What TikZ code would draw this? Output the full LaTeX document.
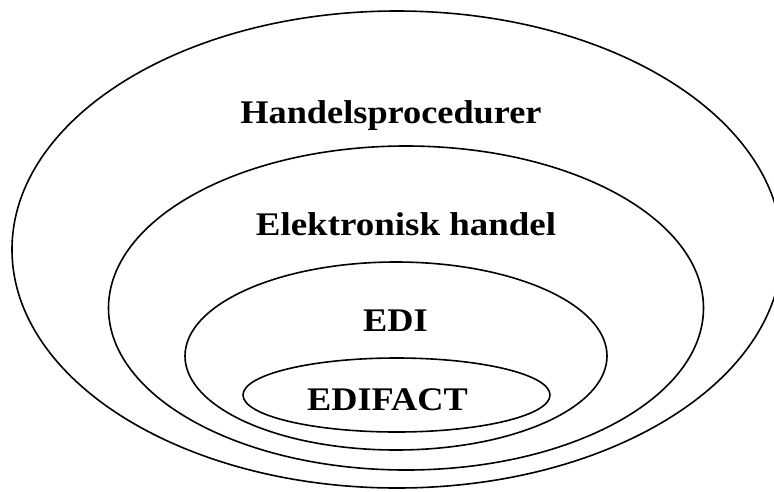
\documentclass[tikz,border=0pt]{standalone}
\usepackage{fontspec}
\setmainfont{Liberation Serif}
\begin{document}
\begin{tikzpicture}[x=1pt,y=-1pt,
  ring/.style={draw=black,line width=1.6pt},
  lbl/.style={anchor=base,inner sep=0pt,font=\fontsize{33}{36}\selectfont\bfseries}]
  \useasboundingbox (0,0) rectangle (774,491);
  \begin{scope}
    \clip (0,0) rectangle (774,491);
    % nested areas, outermost first
    \draw[ring] (397,249.5) ellipse [x radius=385, y radius=238.5];
    \draw[ring] (406,308) ellipse [x radius=297.5, y radius=162];
    \draw[ring] (396,356) ellipse [x radius=211, y radius=94];
    \draw[ring] (396.5,395) ellipse [x radius=153.5, y radius=37];
  \end{scope}
  \node[lbl] (handel) at (391,123) {\scalebox{1.10}[1]{Handelsprocedurer}};
  \node[lbl] (ehandel) at (406,235) {\scalebox{1.12}[1]{Elektronisk handel}};
  \node[lbl] (edi) at (395.5,331) {\scalebox{1.10}[1]{EDI}};
  \node[lbl] (edifact) at (387.5,410) {\scalebox{1.10}[1]{EDIFACT}};
\end{tikzpicture}
\end{document}
